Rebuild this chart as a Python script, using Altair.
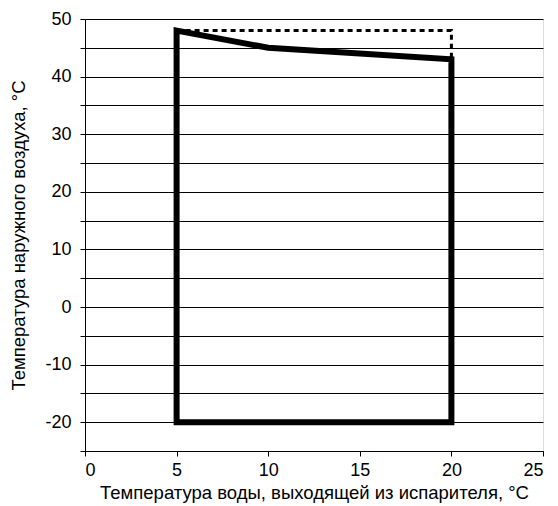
import altair as alt
import pandas as pd

# Solid operating envelope
env_x = [5, 5, 10, 20, 20, 5]
env_y = [-20, 48, 45, 43, -20, -20]
# Dashed extension
dash_x = [5, 20, 20]
dash_y = [48, 48, 43]

x_ticks = [0, 5, 10, 15, 20, 25]
y_ticks = list(range(-25, 51, 5))

env = pd.DataFrame({"x": env_x, "y": env_y, "o": list(range(len(env_x)))})
dash = pd.DataFrame({"x": dash_x, "y": dash_y, "o": list(range(len(dash_x)))})

FONT = "Liberation Sans"

xenc = alt.X(
    "x:Q",
    scale=alt.Scale(domain=[0, 25], nice=False),
    axis=alt.Axis(
        title="Температура воды, выходящей из испарителя, °C",
        values=x_ticks, grid=False, domainColor="black", tickColor="black",
        tickSize=5, labelPadding=5, labelFontSize=18, titleFontSize=18.5,
        labelColor="black", titleColor="black", titleFontWeight="normal",
        labelFont=FONT, titleFont=FONT, titlePadding=4,
    ),
)
yenc = alt.Y(
    "y:Q",
    scale=alt.Scale(domain=[-25, 50], nice=False),
    axis=alt.Axis(
        title="Температура наружного воздуха, °C",
        values=y_ticks, grid=True, gridColor="black", gridWidth=1, gridOpacity=1,
        domainColor="black", tickColor="black", tickSize=5, labelPadding=9,
        labelExpr="datum.value % 10 == 0 ? '' + datum.value : ''",
        labelFontSize=18, titleFontSize=18.5, labelColor="black", titleColor="black",
        titleFontWeight="normal", labelFont=FONT, titleFont=FONT, titlePadding=16,
    ),
)

dashed = alt.Chart(dash).mark_line(
    color="black", strokeWidth=3, strokeDash=[5, 4], clip=False
).encode(x=xenc, y=yenc, order="o:Q")

solid = alt.Chart(env).mark_line(
    color="black", strokeWidth=6, strokeJoin="miter", strokeCap="square", clip=False
).encode(x=xenc, y=yenc, order="o:Q")

chart = (
    alt.layer(dashed, solid)
    .properties(
        width=458,
        height=432,
        autosize=alt.AutoSizeParams(type="none"),
        padding={"left": 77, "top": 11, "right": 7, "bottom": 55},
    )
    .configure_view(stroke="#888888", strokeWidth=1.5)
    .configure(background="white")
)

chart.save("out.html", embed_options={"renderer": "svg", "actions": False})
